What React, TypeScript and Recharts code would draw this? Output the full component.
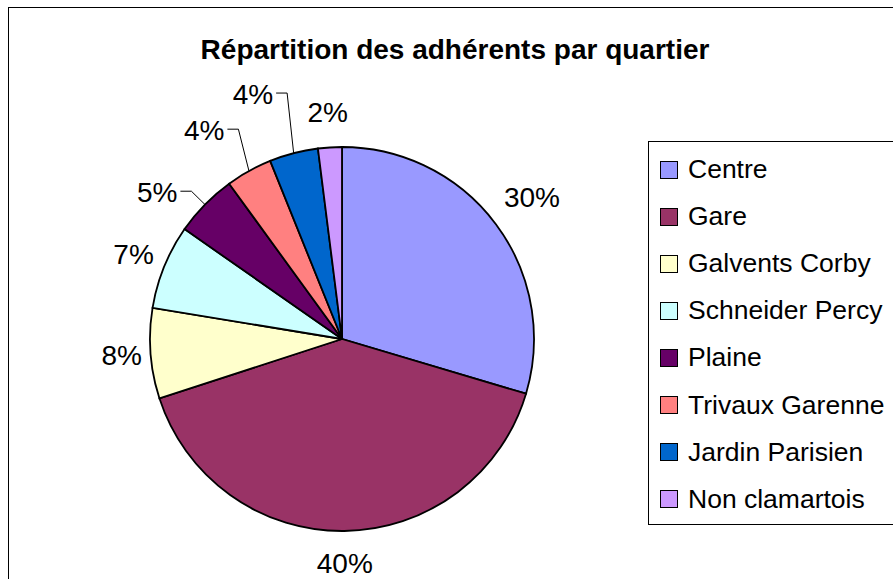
import React from "react";
import { PieChart, Pie, Cell, Legend } from "recharts";

const categories = [
  "Centre",
  "Gare",
  "Galvents Corby",
  "Schneider Percy",
  "Plaine",
  "Trivaux Garenne",
  "Jardin Parisien",
  "Non clamartois",
];
const shares = [29.6, 40.4, 7.6, 7.1, 5.3, 3.9, 4.1, 2.0];
const colors = ["#9999FF", "#993366", "#FFFFCC", "#CCFFFF", "#660066", "#FF8080", "#0066CC", "#CC99FF"];
const title = "Répartition des adhérents par quartier";

const data = categories.map((name, i) => ({ name, value: shares[i] }));

const FONT = "Liberation Sans, Arial, sans-serif";
const RAD = Math.PI / 180;

// label layout: radial gap for plain labels; [elbow length, angular shift] for leader labels
const plainGap: Record<number, number> = { 0: 45, 1: 33, 2: 29, 3: 33, 7: 35 };
const leader: Record<number, [number, number]> = { 4: [19, 0], 5: [42, 2.7], 6: [60, 2] };

const renderLabel = (props: any) => {
  const { cx, cy, midAngle, outerRadius, percent, index } = props;
  const txt = `${Math.round(percent * 100)}%`;
  if (leader[index] !== undefined) {
    const [len, shift] = leader[index];
    const a = midAngle * RAD;
    const b = (midAngle - shift) * RAD;
    const sx = cx + outerRadius * Math.cos(-a);
    const sy = cy + outerRadius * Math.sin(-a);
    const ex = cx + (outerRadius + len) * Math.cos(-b);
    const ey = cy + (outerRadius + len) * Math.sin(-b);
    const hx = ex - 11;
    return (
      <g key={`l${index}`}>
        <polyline points={`${sx},${sy} ${ex},${ey} ${hx},${ey}`} fill="none" stroke="#000" strokeWidth={1} />
        <text x={hx - 3} y={ey + 1} textAnchor="end" dominantBaseline="central" fontFamily={FONT} fontSize={28} fill="#000">
          {txt}
        </text>
      </g>
    );
  }
  const r = outerRadius + (plainGap[index] ?? 35);
  const a = midAngle * RAD;
  return (
    <text
      key={`l${index}`}
      x={cx + r * Math.cos(-a)}
      y={cy + r * Math.sin(-a)}
      textAnchor="middle"
      dominantBaseline="central"
      fontFamily={FONT}
      fontSize={28}
      fill="#000"
    >
      {txt}
    </text>
  );
};

const renderLegend = (props: any) => {
  const payload = [...(props.payload || [])].sort(
    (a: any, b: any) => categories.indexOf(a.value) - categories.indexOf(b.value)
  );
  return (
    <div
      style={{
        position: "relative",
        width: 260,
        height: 384,
        borderLeft: "1.5px solid #000",
        borderTop: "1.5px solid #000",
        borderBottom: "1.5px solid #000",
        boxSizing: "border-box",
        background: "#fff",
      }}
    >
      {payload.map((entry: any, i: number) => (
        <div
          key={i}
          style={{
            position: "absolute",
            left: 11,
            top: 4 + i * 47.1,
            height: 47,
            display: "flex",
            alignItems: "center",
            whiteSpace: "nowrap",
          }}
        >
          <span
            style={{
              display: "inline-block",
              width: 18,
              height: 18,
              background: entry.color,
              border: "1.5px solid #000",
              boxSizing: "border-box",
              marginRight: 10,
            }}
          />
          <span style={{ fontFamily: FONT, fontSize: 26.5, color: "#000", lineHeight: "47px" }}>{entry.value}</span>
        </div>
      ))}
    </div>
  );
};

export default function App() {
  return (
    <div style={{ position: "absolute", left: 0, top: 0, width: 893, height: 579, overflow: "hidden", background: "#fff" }}>
      <div
        style={{
          position: "absolute",
          left: 8,
          top: 7,
          width: 920,
          height: 620,
          border: "1.5px solid #000",
          boxSizing: "border-box",
        }}
      />
      <svg width={893} height={80} style={{ position: "absolute", left: 0, top: 0 }}>
        <text x={455} y={59} textAnchor="middle" fontFamily={FONT} fontSize={28} fontWeight="bold" fill="#000">
          {title}
        </text>
      </svg>
      <div style={{ position: "absolute", left: 0, top: 0 }}>
        <PieChart width={893} height={579} margin={{ top: 0, right: 0, bottom: 0, left: 0 }}>
          <Pie
            data={data}
            dataKey="value"
            nameKey="name"
            cx={342}
            cy={339}
            outerRadius={192}
            startAngle={90}
            endAngle={-270}
            stroke="#000"
            strokeWidth={1.8}
            label={renderLabel}
            labelLine={false}
            isAnimationActive={false}
          >
            {data.map((d, i) => (
              <Cell key={d.name} fill={colors[i]} />
            ))}
          </Pie>
          <Legend
            content={renderLegend}
            wrapperStyle={{ position: "absolute", left: 648, top: 141, width: 260, height: 384 }}
          />
        </PieChart>
      </div>
    </div>
  );
}
